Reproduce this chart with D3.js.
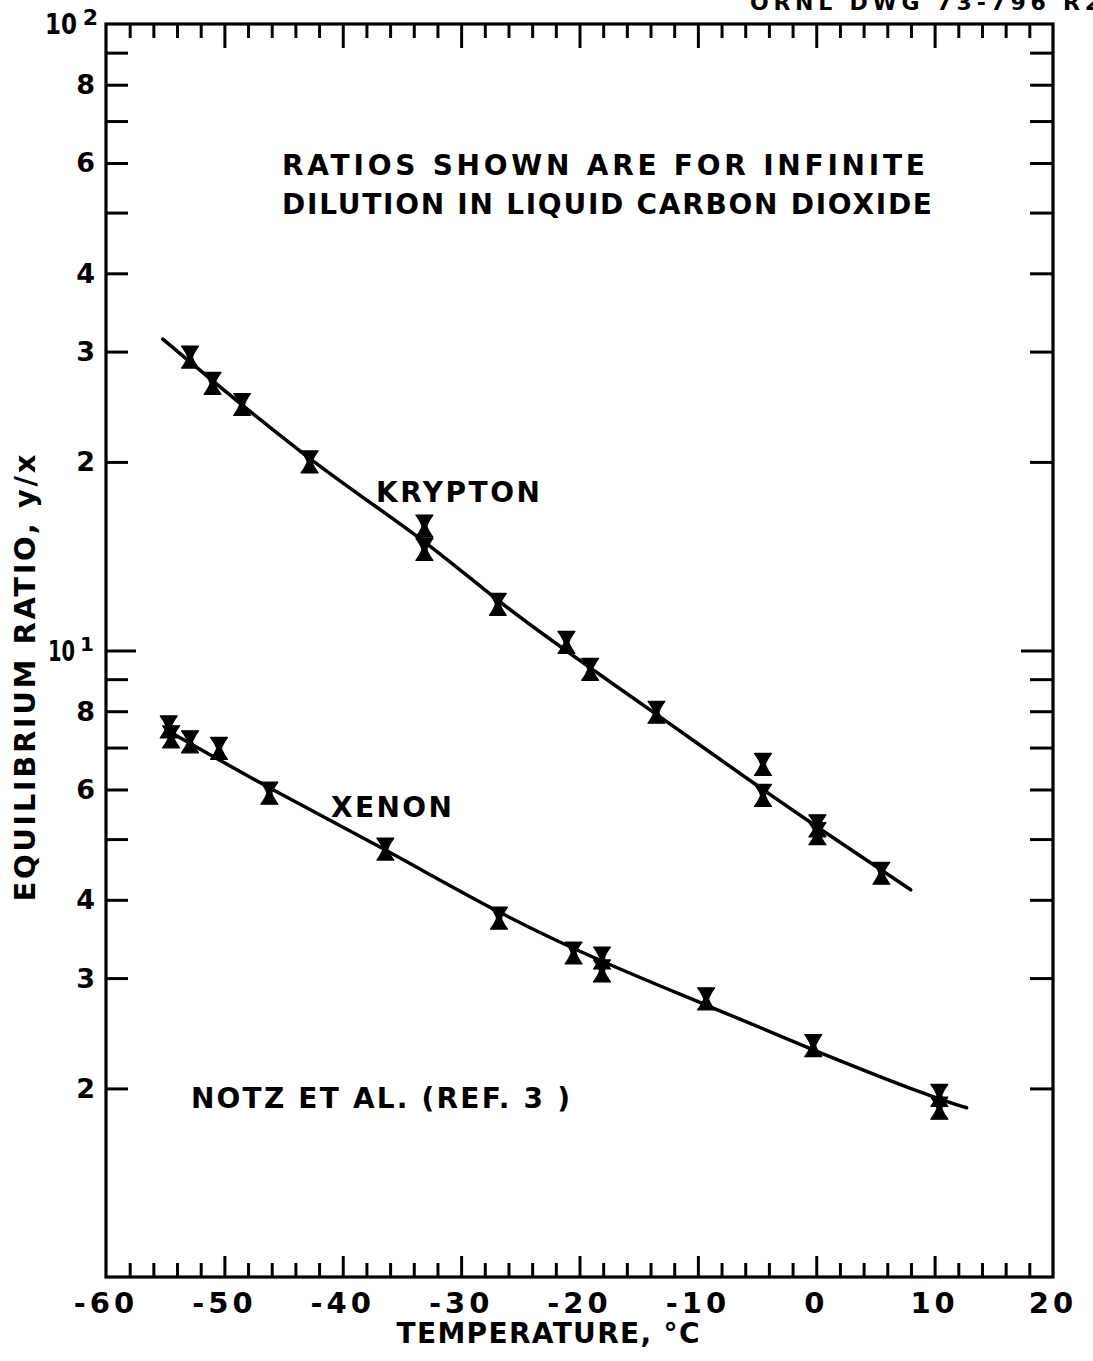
<!DOCTYPE html>
<html>
<head>
<meta charset="utf-8">
<script src="https://cdn.jsdelivr.net/npm/d3@7"></script>
<style>
  html, body { margin: 0; padding: 0; background: #fff; }
  svg { display: block; }
  text { font-family: "DejaVu Sans", "Liberation Sans", sans-serif; font-weight: bold; fill: #000; }
</style>
</head>
<body>
<svg id="chart" width="1093" height="1361"></svg>
<script>
// Equilibrium ratio y/x of krypton and xenon in liquid CO2 versus temperature (°C)
const kryptonTemp  = [-52.9, -51.0, -48.5, -42.8, -33.1, -33.1, -26.9, -21.1, -19.1, -13.5, -4.5, -4.5, 0.1, 0.1, 5.5];
const kryptonRatio = [29.4, 26.7, 24.7, 20.0, 15.8, 14.5, 11.85, 10.3, 9.33, 7.97, 6.58, 5.87, 5.25, 5.10, 4.41];

const xenonTemp  = [-54.7, -54.5, -52.9, -50.45, -46.2, -36.4, -26.8, -20.5, -18.1, -18.1, -9.3, -0.25, 10.4, 10.4];
const xenonRatio = [7.55, 7.28, 7.15, 6.98, 5.92, 4.82, 3.74, 3.29, 3.23, 3.08, 2.78, 2.34, 1.95, 1.86];

// Smoothed correlation curves drawn through the data
const kryptonCurveTemp  = [-55.2, -42.8, -33.1, -26.8, -19.1, -13.45, -4.5, 0.06, 7.98];
const kryptonCurveRatio = [31.4, 20.0, 15.07, 11.9, 9.38, 7.90, 5.99, 5.23, 4.15];

const xenonCurveTemp  = [-54.4, -46.2, -36.4, -26.8, -18.1, -9.3, -0.27, 10.4, 12.7];
const xenonCurveRatio = [7.38, 6.02, 4.82, 3.80, 3.18, 2.72, 2.30, 1.917, 1.863];

// Axis ticks and labels
const xMinorTicks = d3.range(-58, 20, 2);
const xLabelTicks = [-60, -50, -40, -30, -20, -10, 0, 10, 20];
const yTicks = [2, 3, 4, 5, 6, 7, 8, 9, 10, 20, 30, 40, 50, 60, 70, 80, 90];
const yLabelValues = [2, 3, 4, 6, 8, 20, 30, 40, 60, 80];
const yLabelTexts  = ["2", "3", "4", "6", "8", "2", "3", "4", "6", "8"];
const decadeLabels = [[10, "1"], [100, "2"]];

const svg = d3.select("#chart");
const plot = { left: 106, right: 1053, top: 24, bottom: 1277 };

const x = d3.scaleLinear().domain([-60, 20]).range([plot.left, plot.right]);
const y = d3.scaleLog().domain([1, 100]).range([plot.bottom, plot.top]);

const isDecade = v => Math.abs(Math.log10(v) - Math.round(Math.log10(v))) < 1e-9;

function styleAxis(g) {
  g.select(".domain").remove();
  g.selectAll(".tick line").attr("stroke", "#000").attr("stroke-width", 3);
  g.selectAll(".tick text").remove();
}

// Left and right axes with inward ticks
const gLeft = svg.append("g").attr("transform", `translate(${plot.left},0)`)
  .call(d3.axisLeft(y).tickValues(yTicks).tickSize(-22).tickFormat(""));
styleAxis(gLeft);
gLeft.selectAll(".tick line").attr("x2", d => isDecade(d) ? 30 : 22);

const gRight = svg.append("g").attr("transform", `translate(${plot.right},0)`)
  .call(d3.axisRight(y).tickValues(yTicks).tickSize(-22).tickFormat(""));
styleAxis(gRight);
gRight.selectAll(".tick line").attr("x2", d => isDecade(d) ? -32 : -23);

// Bottom and top axes with inward ticks
const gBottom = svg.append("g").attr("transform", `translate(0,${plot.bottom})`)
  .call(d3.axisBottom(x).tickValues(xMinorTicks).tickSize(-14).tickFormat(""));
styleAxis(gBottom);
gBottom.selectAll(".tick line").attr("y2", d => d % 10 === 0 ? -21 : -14);

const gTop = svg.append("g").attr("transform", `translate(0,${plot.top})`)
  .call(d3.axisTop(x).tickValues(xMinorTicks).tickSize(-14).tickFormat(""));
styleAxis(gTop);
gTop.selectAll(".tick line").attr("y2", d => d % 10 === 0 ? 24 : 14);

// Frame
svg.append("rect")
  .attr("x", plot.left).attr("y", plot.top)
  .attr("width", plot.right - plot.left).attr("height", plot.bottom - plot.top)
  .attr("fill", "none").attr("stroke", "#000").attr("stroke-width", 3.2);

// X tick labels
svg.append("g").selectAll("text").data(xLabelTicks).join("text")
  .attr("x", d => x(d)).attr("y", 1313)
  .attr("text-anchor", "middle").attr("font-size", 29)
  .attr("letter-spacing", 4)
  .text(d => d < 0 ? "-" + Math.abs(d) : String(d));

// Y tick labels
svg.append("g").selectAll("text").data(yLabelValues).join("text")
  .attr("x", 95).attr("y", d => y(d))
  .attr("text-anchor", "end").attr("dominant-baseline", "central")
  .attr("font-size", 27)
  .text((d, i) => yLabelTexts[i]);

// Decade labels with exponents (base "10" drawn narrow, exponent raised)
decadeLabels.forEach(([v, e]) => {
  const right = v === 10 ? 94 : 98;
  const expSize = v === 10 ? 20 : 22;
  const g = svg.append("g");
  g.append("text")
    .attr("x", right - (v === 10 ? 19 : 21)).attr("y", y(v))
    .attr("text-anchor", "end").attr("dominant-baseline", "central")
    .attr("font-size", 29)
    .attr("textLength", v === 10 ? 27 : 32).attr("lengthAdjust", "spacingAndGlyphs")
    .text("10");
  g.append("text")
    .attr("x", right).attr("y", y(v) - 7)
    .attr("text-anchor", "end").attr("dominant-baseline", "central")
    .attr("font-size", expSize)
    .text(e);
});

// Curves
const line = d3.line().x(d => x(d[0])).y(d => y(d[1])).curve(d3.curveBasis);
svg.append("path")
  .datum(d3.zip(kryptonCurveTemp, kryptonCurveRatio))
  .attr("d", line).attr("fill", "none").attr("stroke", "#000")
  .attr("stroke-width", 3.5).attr("stroke-linecap", "round");
svg.append("path")
  .datum(d3.zip(xenonCurveTemp, xenonCurveRatio))
  .attr("d", line).attr("fill", "none").attr("stroke", "#000")
  .attr("stroke-width", 3.5).attr("stroke-linecap", "round");

// Hourglass data markers
const hourglass = "M-8.5,-11 L8.5,-11 Q3.5,-4 2.4,0 Q3.5,4 8.5,11 L-8.5,11 Q-3.5,4 -2.4,0 Q-3.5,-4 -8.5,-11 Z";
function drawMarkers(temps, ratios) {
  svg.append("g").selectAll("path").data(d3.zip(temps, ratios)).join("path")
    .attr("d", hourglass)
    .attr("transform", d => `translate(${x(d[0])},${y(d[1])})`)
    .attr("fill", "#000").attr("stroke", "#000").attr("stroke-width", 1.2)
    .attr("stroke-linejoin", "round");
}
drawMarkers(kryptonTemp, kryptonRatio);
drawMarkers(xenonTemp, xenonRatio);

// Annotations
function label(txt, x0, yb, size, len) {
  svg.append("text").attr("x", x0).attr("y", yb).attr("font-size", size)
    .attr("textLength", len).attr("lengthAdjust", "spacing").text(txt);
}
label("RATIOS SHOWN ARE FOR INFINITE", 282, 175, 28, 643);
label("DILUTION IN LIQUID CARBON DIOXIDE", 282, 214, 28, 650);
label("KRYPTON", 376, 502, 28, 164);
label("XENON", 331, 817, 28, 121);
label("NOTZ ET AL. (REF. 3 )", 191, 1108, 28, 379);
label("ORNL DWG 73-796 R2", 750, 10, 22, 350);

// Axis titles
svg.append("text")
  .attr("x", 548).attr("y", 1343).attr("text-anchor", "middle")
  .attr("font-size", 28).attr("textLength", 303).attr("lengthAdjust", "spacing")
  .text("TEMPERATURE, °C");

svg.append("text")
  .attr("transform", "translate(35,678) rotate(-90)")
  .attr("text-anchor", "middle").attr("font-size", 29)
  .attr("textLength", 447).attr("lengthAdjust", "spacing")
  .text("EQUILIBRIUM RATIO, y/x");
</script>
</body>
</html>
